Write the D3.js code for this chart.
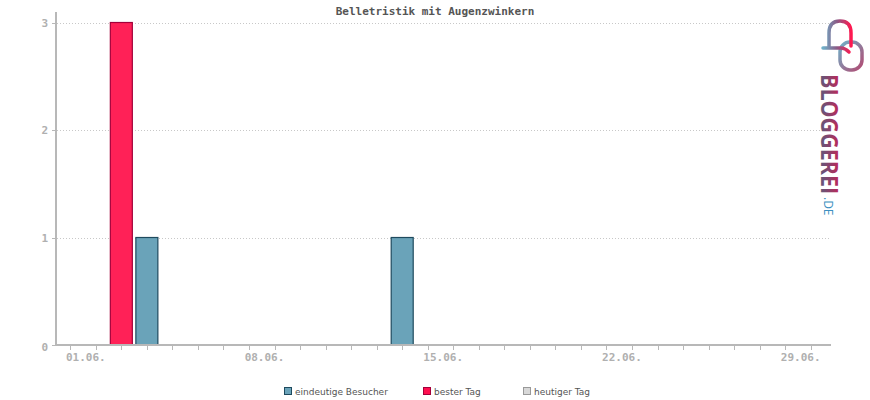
<!DOCTYPE html>
<html><head><meta charset="utf-8">
<script src="https://cdn.jsdelivr.net/npm/d3@7"></script>
<style>body{margin:0;background:#fff}svg{display:block}</style>
</head><body>
<svg id="c" width="870" height="400"></svg>
<script>
const title = "Belletristik mit Augenzwinkern";
const days = d3.range(1, 31);
const visitors = [0,0,3,1,0,0,0,0,0,0,0,0,0,1,0,0,0,0,0,0,0,0,0,0,0,0,0,0,0,0];
const bestDay = 3;
const tickLabels = ["01.06.","08.06.","15.06.","22.06.","29.06."];
const labelDays = [1,8,15,22,29];
const yTicks = [0,1,2,3];
const legendItems = ["eindeutige Besucher","bester Tag","heutiger Tag"];

const svg = d3.select("#c");
const mono = "'DejaVu Sans Mono', monospace";
const x = d3.scaleBand().domain(days).range([57.5, 823.5]).paddingInner(0.1).paddingOuter(0.05);
const cx = d => x(d) + x.bandwidth()/2;
const y = d3.scaleLinear().domain([0,3]).range([345, 22.5]);

svg.append("text").attr("x",435).attr("y",15).attr("text-anchor","middle")
  .attr("font-family",mono).attr("font-size",11).attr("font-weight","bold").attr("fill","#555").text(title);

// grid
svg.append("g").selectAll("line").data(yTicks.filter(t=>t>0)).join("line")
  .attr("x1",57).attr("x2",830).attr("y1",d=>Math.round(y(d))+0.5).attr("y2",d=>Math.round(y(d))+0.5)
  .attr("stroke","#c8c8c8").attr("stroke-dasharray","1,2");

// bars
const bw = 22;
svg.append("g").selectAll("rect").data(days.filter((d,i)=>visitors[i]>0)).join("rect")
  .attr("x",d=>cx(d)-bw/2).attr("width",bw)
  .attr("y",d=>y(visitors[d-1])).attr("height",d=>y(0)-y(visitors[d-1]))
  .attr("fill",d=>d===bestDay?"#ff2157":"#6aa3b9")
  .attr("stroke",d=>d===bestDay?"#a3003a":"#1e4a5e").attr("stroke-width",1.2);

// axes
svg.append("line").attr("x1",56).attr("x2",56).attr("y1",12).attr("y2",346).attr("stroke","#b8b8b8").attr("stroke-width",2);
svg.append("line").attr("x1",55).attr("x2",831).attr("y1",345).attr("y2",345).attr("stroke","#b8b8b8").attr("stroke-width",2);
svg.append("g").selectAll("line").data(yTicks).join("line")
  .attr("x1",52).attr("x2",56).attr("y1",d=>Math.round(y(d))+0.5).attr("y2",d=>Math.round(y(d))+0.5).attr("stroke","#b8b8b8");
svg.append("g").selectAll("text").data(yTicks).join("text")
  .attr("x",48).attr("y",d=>y(d)+4 + (d===0?2:0)).attr("text-anchor","end")
  .attr("font-family",mono).attr("font-size",11).attr("font-weight","bold").attr("fill","#b0b0b0").text(d=>d);
svg.append("g").selectAll("line").data(days).join("line")
  .attr("x1",d=>Math.round(cx(d))+0.5).attr("x2",d=>Math.round(cx(d))+0.5).attr("y1",345).attr("y2",350).attr("stroke","#b8b8b8");
svg.append("g").selectAll("text").data(labelDays).join("text")
  .attr("x",(d,i)=>cx(d)+15.5).attr("y",361).attr("text-anchor","middle")
  .attr("font-family",mono).attr("font-size",11).attr("font-weight","bold").attr("fill","#b0b0b0").text((d,i)=>tickLabels[i]);

// legend
const lg = [{x:284,f:"#6aa3b9",s:"#1e4a5e"},{x:423,f:"#ff0f4f",s:"#a3003a"},{x:523,f:"#d8d8d8",s:"#999"}];
const L = svg.append("g").selectAll("g").data(legendItems).join("g").attr("transform",(d,i)=>`translate(${lg[i].x},387)`);
L.append("rect").attr("x",0.5).attr("y",0.5).attr("width",7).attr("height",7).attr("fill",(d,i)=>lg[i].f).attr("stroke",(d,i)=>lg[i].s);
L.append("text").attr("x",11).attr("y",8).attr("font-family","'DejaVu Sans', sans-serif").attr("font-size",9).attr("fill","#555").text(d=>d);

// logo
const defs = svg.append("defs");
const g1 = defs.append("linearGradient").attr("id","lg1").attr("x1","0").attr("y1","0").attr("x2","1").attr("y2","0");
g1.append("stop").attr("offset","0").attr("stop-color","#6fb0c8");
g1.append("stop").attr("offset","0.5").attr("stop-color","#8a5a86");
g1.append("stop").attr("offset","1").attr("stop-color","#ff1850");
const g2 = defs.append("linearGradient").attr("id","lg2").attr("x1","0").attr("y1","0").attr("x2","0").attr("y2","1");
g2.append("stop").attr("offset","0").attr("stop-color","#e4134a");
g2.append("stop").attr("offset","1").attr("stop-color","#3f6a86");
const g3 = defs.append("linearGradient").attr("id","lg3").attr("x1","0").attr("y1","0").attr("x2","1").attr("y2","1");
g3.append("stop").attr("offset","0").attr("stop-color","#6fb0c8");
g3.append("stop").attr("offset","1").attr("stop-color","#b24a72");
const logo = svg.append("g");
logo.append("rect").attr("x",840).attr("y",42).attr("width",22).attr("height",28).attr("rx",10)
  .attr("fill","none").attr("stroke","url(#lg3)").attr("stroke-width",3.5);
logo.append("path").attr("d","M823,48 L841,48 C845,48 847,50 849,52 M829,46 L829,33 C829,25 833,21 840,21 C847,21 851,25 851,33 L851,46")
  .attr("fill","none").attr("stroke","url(#lg1)").attr("stroke-width",3.5).attr("stroke-linecap","round").attr("stroke-linejoin","round");
logo.append("text").attr("transform","translate(821,74) rotate(90)")
  .attr("font-family","'Open Sans', 'DejaVu Sans', sans-serif").attr("font-weight","bold").attr("font-size",24).attr("fill","url(#lg2)")
  .attr("textLength",120).attr("lengthAdjust","spacingAndGlyphs").text("BLOGGEREI");
logo.append("text").attr("transform","translate(824,197) rotate(90)")
  .attr("font-family","'Open Sans', sans-serif").attr("font-size",12).attr("fill","#3b8fc0").text(".DE");
</script>
</body></html>
